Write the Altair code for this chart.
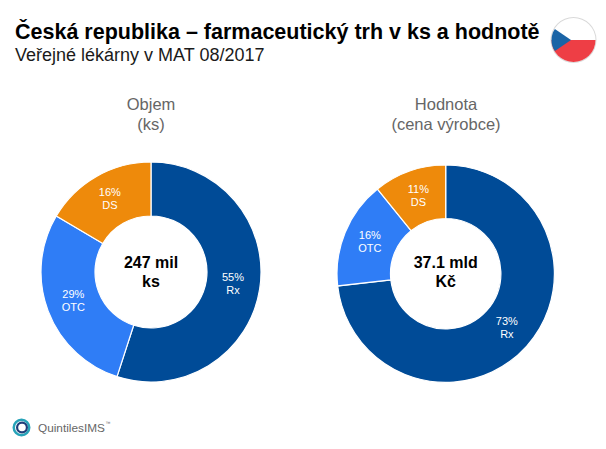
import altair as alt
import pandas as pd

kinds = ["Rx", "OTC", "DS"]
order = [1, 2, 3]
objem = [55, 28.5, 16.5]
objem_labels = [55, 29, 16]
hodnota = [73.2, 16, 10.8]
hodnota_labels = [73, 16, 11]
colors = ["#004B97", "#2F7DF6", "#EE8A0B"]
FONT = "Liberation Sans"
PI = 3.14159265


def text_mark(txt, x, y, size, color, weight="normal", line_height=None, align="center", baseline="middle"):
    kw = {}
    if line_height:
        kw["lineHeight"] = line_height
    return alt.Chart(pd.DataFrame({"t": [txt]})).mark_text(
        font=FONT, fontSize=size, color=color, fontWeight=weight, align=align,
        baseline=baseline, lineBreak="\n", **kw
    ).encode(text="t:N", x=alt.value(x), y=alt.value(y))


def donut(values, shown, cx, cy, outer, inner, label_r, center_text, center_y):
    df = pd.DataFrame({
        "kind": kinds,
        "share": values,
        "ord": order,
        "label": [f"{v}%\n{k}" for v, k in zip(shown, kinds)],
    })
    base = alt.Chart(df).encode(
        theta=alt.Theta("share:Q", stack=True, scale=alt.Scale(domain=[0, 100], range=[0, 2 * PI])),
        order=alt.Order("ord:Q"),
        x=alt.value(cx),
        y=alt.value(cy),
    )
    arcs = base.mark_arc(outerRadius=outer, innerRadius=inner, stroke="white", strokeWidth=1.2).encode(
        color=alt.Color("kind:N", scale=alt.Scale(domain=kinds, range=colors), legend=None)
    )
    labels = base.mark_text(radius=label_r, dy=-6.5, font=FONT, fontSize=11, color="white", lineBreak="\n", lineHeight=13).encode(
        text="label:N"
    )
    mid = text_mark(center_text, cx, center_y, 16, "#000000", "bold", 19.5)
    return arcs + labels + mid


def disc(x, y, outer, inner, start, end, fill):
    return alt.Chart(pd.DataFrame({"a": [0]})).mark_arc(
        outerRadius=outer, innerRadius=inner, theta=start, theta2=end, fill=fill
    ).encode(x=alt.value(x), y=alt.value(y))


ox, oy = -8, -8  # page margin
layers = [
    text_mark("Česká republika – farmaceutický trh v ks a hodnotě", 15 + ox, 33 + oy, 21.5, "#000000", "bold", align="left"),
    text_mark("Veřejné lékárny v MAT 08/2017", 15 + ox, 55.5 + oy, 18, "#1a1a1a", align="left"),
    text_mark("Objem\n(ks)", 151 + ox, 105 + oy, 16.5, "#666666", line_height=20),
    text_mark("Hodnota\n(cena výrobce)", 446 + ox, 105 + oy, 16.5, "#666666", line_height=20),
    donut(objem, objem_labels, 151 + ox, 272 + oy, 110, 56, 83, "247 mil\nks", 262.5 + oy),
    donut(hodnota, hodnota_labels, 445.7 + ox, 273.7 + oy, 108.7, 55.2, 82, "37.1 mld\nKč", 262.5 + oy),
    # flag
    disc(573.5 + ox, 40 + oy, 23, 0, 0, 2 * PI, "#d9d9d9"),
    disc(573.5 + ox, 40 + oy, 22, 0, 0, 2 * PI, "#ffffff"),
    disc(573.5 + ox, 40 + oy, 22, 0, PI / 2, 3 * PI / 2, "#EE3E45"),
    disc(571 + ox, 40 + oy, 19.5, 0, 1.31 * PI, 1.69 * PI, "#1A64A6"),
    # logo
    disc(21.5 + ox, 427.5 + oy, 9, 6.5, 0, 2 * PI, "#27A3B8"),
    disc(22 + ox, 427.5 + oy, 6, 3.8, 0, 2 * PI, "#1F3F7A"),
    text_mark("QuintilesIMS", 38 + ox, 428 + oy, 11.8, "#666666", align="left"),
    text_mark("™", 105.5 + ox, 423 + oy, 5, "#666666", align="left"),
]

chart = alt.layer(*layers).resolve_scale(theta="independent").properties(
    width=590, height=433, padding=0, autosize=alt.AutoSizeParams(type="none"), background="white"
).configure_view(stroke=None)

chart.save("out.html", embed_options={"renderer": "svg", "actions": False})
